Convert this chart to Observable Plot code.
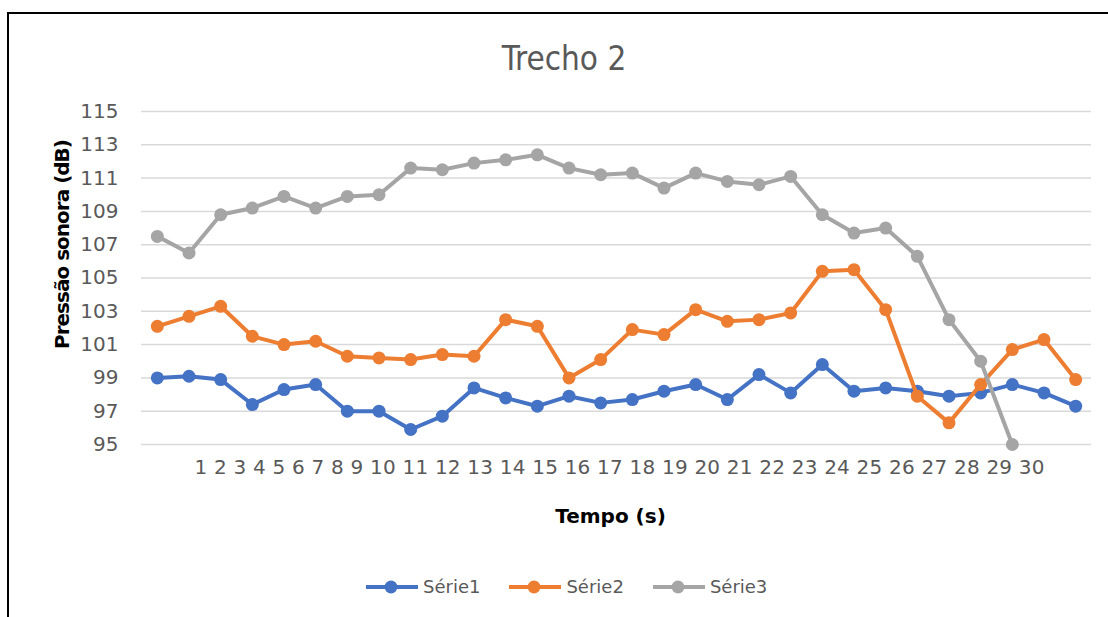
<!DOCTYPE html>
<html>
<head>
<meta charset="utf-8">
<script src="https://cdn.jsdelivr.net/npm/d3@7"></script>
<script src="https://cdn.jsdelivr.net/npm/@observablehq/plot@0.6"></script>
<style>
  html, body { margin: 0; padding: 0; background: #fff; }
  #wrap { position: relative; width: 1108px; height: 617px; overflow: hidden; font-family: "DejaVu Sans", sans-serif; }
  #title { position: absolute; left: 0; width: 1128px; top: 39px; text-align: center; font-family: "DejaVu Sans Condensed", "DejaVu Sans", sans-serif; font-size: 33px; color: #595959; }
  #chart { position: absolute; left: 0; top: 0; }
  .bt { position: absolute; left: 7px; top: 12px; width: 1101px; height: 2px; background: #000; }
  .bl { position: absolute; left: 7px; top: 12px; width: 2px; height: 605px; background: #000; }
  #legend { position: absolute; top: 576px; left: 366px; display: flex; align-items: center; font-size: 18px; color: #595959; }
  #legend .item { display: flex; align-items: center; margin-right: 29px; }
  #legend svg { margin-right: 5px; }
</style>
</head>
<body>
<div id="wrap">
  <div id="title"></div>
  <div id="chart"></div>
  <div id="legend"></div>
  <div class="bt"></div>
  <div class="bl"></div>
</div>
<script>
const titleText = "Trecho 2";
const xTitle = "Tempo (s)";
const yTitle = "Pressão sonora (dB)";
const seriesNames = ["Série1", "Série2", "Série3"];
const seriesColors = ["#4472C4", "#ED7D31", "#A5A5A5"];
const tickLabels = [1,2,3,4,5,6,7,8,9,10,11,12,13,14,15,16,17,18,19,20,21,22,23,24,25,26,27,28,29,30];
const yTicks = [95, 97, 99, 101, 103, 105, 107, 109, 111, 113, 115];

const serie1 = [99.0, 99.1, 98.9, 97.4, 98.3, 98.6, 97.0, 97.0, 95.9, 96.7, 98.4, 97.8, 97.3, 97.9, 97.5,
                97.7, 98.2, 98.6, 97.7, 99.2, 98.1, 99.8, 98.2, 98.4, 98.2, 97.9, 98.1, 98.6, 98.1, 97.3];
const serie2 = [102.1, 102.7, 103.3, 101.5, 101.0, 101.2, 100.3, 100.2, 100.1, 100.4, 100.3, 102.5, 102.1, 99.0, 100.1,
                101.9, 101.6, 103.1, 102.4, 102.5, 102.9, 105.4, 105.5, 103.1, 97.9, 96.3, 98.6, 100.7, 101.3, 98.9];
const serie3 = [107.5, 106.5, 108.8, 109.2, 109.9, 109.2, 109.9, 110.0, 111.6, 111.5, 111.9, 112.1, 112.4, 111.6, 111.2,
                111.3, 110.4, 111.3, 110.8, 110.6, 111.1, 108.8, 107.7, 108.0, 106.3, 102.5, 100.0, 95.0];

const allSeries = [serie1, serie2, serie3];
const rows = allSeries.flatMap((vals, si) => vals.map((v, i) => ({x: tickLabels[i], y: v, s: seriesNames[si]})));

document.getElementById("title").textContent = titleText;

const marks = [
  Plot.gridY(yTicks, {stroke: "#D9D9D9", strokeOpacity: 1, strokeWidth: 1.5}),
  Plot.axisY(yTicks, {tickSize: 0, tickPadding: 23, fontSize: 20, fill: "#595959", label: null,
    fontFamily: "DejaVu Sans"}),
  Plot.text([yTitle], {frameAnchor: "left", textAnchor: "middle", rotate: -90, dx: -79, dy: -34, fontSize: 20,
    fontWeight: "bold", fill: "#000", fontFamily: "DejaVu Sans", className: "ytitle"}),
  Plot.text([tickLabels.join(" ")], {frameAnchor: "bottom-left", textAnchor: "start", dx: 53, dy: 29,
    fontSize: 20, fill: "#595959", fontFamily: "DejaVu Sans", className: "xticklabels"}),
  Plot.text([xTitle], {frameAnchor: "bottom", dx: -6, dy: 78, fontSize: 20, fontWeight: "bold", fill: "#000",
    fontFamily: "DejaVu Sans"})
];
allSeries.forEach((vals, si) => {
  const d = rows.filter(r => r.s === seriesNames[si]);
  marks.push(Plot.lineY(d, {x: "x", y: "y", stroke: seriesColors[si], strokeWidth: 4}));
  marks.push(Plot.dot(d, {x: "x", y: "y", r: 6.5, fill: seriesColors[si], stroke: "none"}));
});

const plot = Plot.plot({
  width: 1108,
  height: 617,
  marginLeft: 141,
  marginRight: 17,
  marginTop: 111,
  marginBottom: 173,
  style: {background: "transparent", fontFamily: "DejaVu Sans", overflow: "visible"},
  x: {type: "point", domain: tickLabels, padding: 0.5, round: false, axis: null},
  y: {domain: [95, 115], axis: null},
  marks
});
d3.select(plot).selectAll(".xticklabels text")
  .attr("textLength", 850)
  .attr("lengthAdjust", "spacing");
d3.select(plot).selectAll(".ytitle text")
  .attr("textLength", 210)
  .attr("lengthAdjust", "spacing");
document.getElementById("chart").appendChild(plot);

// Legend
const legend = document.getElementById("legend");
seriesNames.forEach((name, i) => {
  const item = document.createElement("div");
  item.className = "item";
  item.innerHTML = `<svg width="52" height="16"><line x1="0" x2="52" y1="8" y2="8" stroke="${seriesColors[i]}" stroke-width="4"/><circle cx="25" cy="8" r="6.5" fill="${seriesColors[i]}"/></svg><span>${name}</span>`;
  legend.appendChild(item);
});
</script>
</body>
</html>
